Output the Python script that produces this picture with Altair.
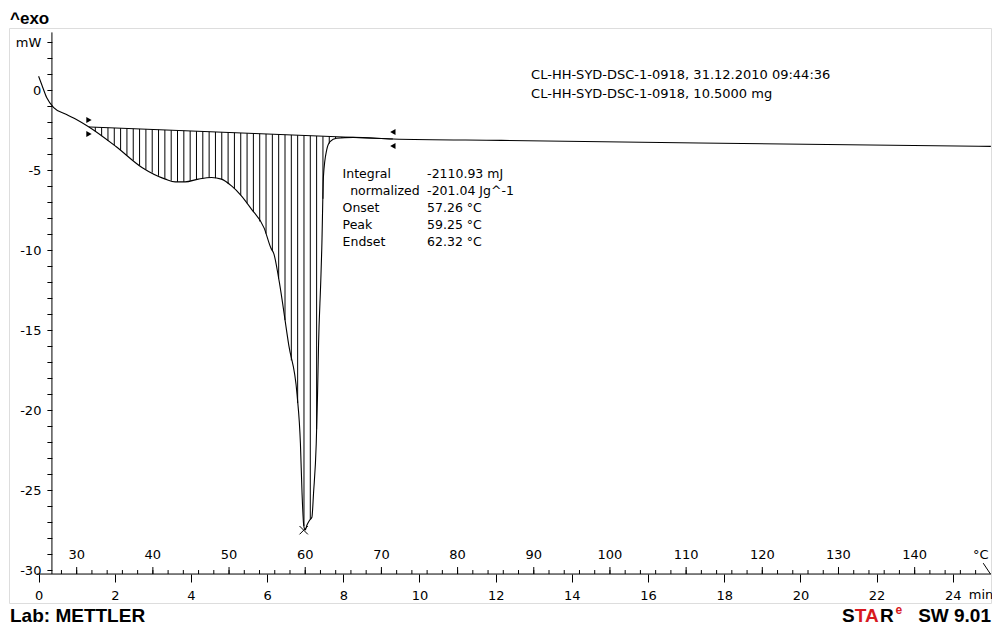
import altair as alt
import numpy as np
import pandas as pd

# ---------------- data ----------------
# DSC curve: time (min) vs heat flow (mW)
time_min = [0.000, 0.086, 0.215, 0.389, 0.734, 0.993, 1.323, 2.031, 2.724, 3.328,
            3.588, 3.847, 4.192, 4.540, 4.799, 5.058, 5.318, 5.577, 5.922, 6.096,
            6.181, 6.311, 6.570, 6.786, 6.874, 6.916, 6.960, 6.999, 7.046, 7.110,
            7.175, 7.219, 7.289, 7.323, 7.349, 7.409, 7.435, 7.479, 7.564, 7.652,
            7.824, 8.257, 9.295, 12.149, 17.337, 25.0]
heat_flow_mW = [0.86, 0.31, -0.49, -1.08, -1.53, -1.84, -2.31, -3.53, -4.86, -5.57,
                -5.74, -5.74, -5.57, -5.47, -5.57, -5.98, -6.60, -7.41, -8.63, -9.86,
                -10.27, -11.88, -15.98, -19.04, -22.11, -25.17, -27.19, -27.50, -27.19, -26.90,
                -26.70, -25.17, -22.11, -19.04, -15.98, -11.88, -9.86, -5.37, -3.74, -3.23,
                -3.02, -2.96, -3.06, -3.15, -3.31, -3.52]

# integration limits (baseline end points)
limit_t = [1.323, 9.300]
limit_mW = [-2.31, -3.06]

# peak mark
peak_t = [6.96]
peak_mW = [-27.51]

# axes
time_ticks = list(range(0, 25, 2))
mw_ticks = list(range(-30, 4))
temp_major = list(range(30, 141, 10))
temp_minor = list(range(28, 149, 2))
start_temp_C = 25.0      # temperature at time 0
heating_rate = 5.0       # K/min
axis_mW = -30.25         # level of the time/temperature axis line
yaxis_t = 0.35           # time position of the mW axis line
yaxis_top_mW = 3.6
hatch_step_min = 0.166

header_lines = ["CL-HH-SYD-DSC-1-0918, 31.12.2010 09:44:36",
                "CL-HH-SYD-DSC-1-0918, 10.5000 mg"]
header_mW = [0.92, -0.25]
result_names = ["Integral", "normalized", "Onset", "Peak", "Endset"]
result_name_t = [7.98, 8.18, 7.98, 7.98, 7.98]
result_values = ["-2110.93 mJ", "-201.04 Jg^-1", "57.26 \u00b0C", "59.25 \u00b0C", "62.32 \u00b0C"]
result_mW = [-5.27, -6.29, -7.35, -8.43, -9.51]

# ---------------- layout ----------------
W, H = 982, 575
x_dom = [-0.777, 25.004]
y_dom = [-32.06, 3.875]
FONT = "DejaVu Sans"
BOLD = "Liberation Sans"
RED = "#d71920"

xs = alt.Scale(domain=x_dom, nice=False, zero=False)
ys = alt.Scale(domain=y_dom, nice=False, zero=False)
x_axis = alt.Axis(values=time_ticks, offset=-29, domain=False, grid=False,
                  tickSize=8, tickColor="black", tickWidth=1, labelPadding=7,
                  labelFont=FONT, labelFontSize=13, labelColor="black", title=None)
y_axis = alt.Axis(values=mw_ticks, offset=-42.9, domain=False, grid=False,
                  tickSize=5, tickColor="black", tickWidth=1, labelPadding=6,
                  labelFont=FONT, labelFontSize=13, labelColor="black", title=None,
                  labelExpr="datum.value == 3 ? 'mW' : (datum.value % 5 == 0 ? '' + datum.value : '')")


def X(f="t"):
    return alt.X(f, type="quantitative", scale=xs, axis=x_axis)


def Y(f="v"):
    return alt.Y(f, type="quantitative", scale=ys, axis=y_axis)


curve_df = pd.DataFrame({"t": time_min, "v": heat_flow_mW})

# hatching between baseline and curve
th = np.arange(limit_t[0] + hatch_step_min, limit_t[1], hatch_step_min)
base_h = np.interp(th, limit_t, limit_mW)
curve_h = np.interp(th, time_min, heat_flow_mW)
keep = curve_h < base_h - 0.03
hatch_df = pd.DataFrame({"t": th[keep], "v": base_h[keep], "v2": curve_h[keep]})

hatch = alt.Chart(hatch_df).mark_rule(color="black", strokeWidth=1).encode(
    x=X(), y=Y(), y2="v2:Q")

baseline = alt.Chart(pd.DataFrame({"t": limit_t, "v": limit_mW})).mark_line(
    color="black", strokeWidth=1).encode(x=X(), y=Y())

curve = alt.Chart(curve_df).mark_line(color="black", strokeWidth=1.1,
                                      interpolate="monotone").encode(x=X(), y=Y())

# axis lines
yaxis_line = alt.Chart(pd.DataFrame({"t": [yaxis_t], "v": [yaxis_top_mW], "v2": [axis_mW]})).mark_rule(
    color="black", strokeWidth=1).encode(x=X(), y=Y(), y2="v2:Q")
xaxis_line = alt.Chart(pd.DataFrame({"t": [-0.05], "t2": [x_dom[1]], "v": [axis_mW]})).mark_rule(
    color="black", strokeWidth=1).encode(x=X(), x2="t2:Q", y=Y())
end_mark = alt.Chart(pd.DataFrame({"t": [24.80, 24.99], "v": [-29.57, axis_mW]})).mark_line(
    color="black", strokeWidth=1).encode(x=X(), y=Y())


# temperature axis (ticks above the line)
def temp_layer(vals, length):
    return alt.Chart(pd.DataFrame({"T": vals})).transform_calculate(
        t=f"(datum.T - {start_temp_C}) / {heating_rate}", v=f"{axis_mW}"
    ).mark_rule(color="black", strokeWidth=1, y2Offset=-length).encode(
        x=X(), y=Y(), y2="v:Q")


temp_minor_l = temp_layer(temp_minor, 4)
temp_major_l = temp_layer(temp_major, 7)
temp_labels = alt.Chart(pd.DataFrame({"T": temp_major})).transform_calculate(
    t=f"(datum.T - {start_temp_C}) / {heating_rate}", v=f"{axis_mW}"
).mark_text(font=FONT, fontSize=13, color="black", dy=-19, baseline="middle", align="center").encode(
    x=X(), y=Y(), text="T:N")

unit_c = alt.Chart(pd.DataFrame({"t": [24.94], "v": [axis_mW], "s": ["\u00b0C"]})).mark_text(
    font=FONT, fontSize=13, color="black", dy=-19, align="right", baseline="middle").encode(
    x=X(), y=Y(), text="s:N")
unit_min = alt.Chart(pd.DataFrame({"t": [24.42], "v": [axis_mW], "s": ["min"]})).mark_text(
    font=FONT, fontSize=13, color="black", dy=21, align="left", baseline="middle").encode(
    x=X(), y=Y(), text="s:N")


# integration limit markers and peak mark
def tri(tv, vv, shape, off):
    return alt.Chart(pd.DataFrame({"t": [tv], "v": [vv]})).mark_point(
        shape=shape, filled=True, color="black", size=38, opacity=1, yOffset=off).encode(
        x=X(), y=Y())


markers = [tri(limit_t[0], limit_mW[0], "triangle-right", -7),
           tri(limit_t[0], limit_mW[0], "triangle-right", 7),
           tri(limit_t[1], limit_mW[1], "triangle-left", -7),
           tri(limit_t[1], limit_mW[1], "triangle-left", 7)]
peak = alt.Chart(pd.DataFrame({"t": peak_t, "v": peak_mW})).mark_point(
    shape="M-1,-1L1,1M-1,1L1,-1", filled=False, color="black", size=70,
    strokeWidth=1, opacity=1).encode(x=X(), y=Y())

# text annotations
header = alt.Chart(pd.DataFrame({"t": [12.93] * 2, "v": header_mW, "s": header_lines})).mark_text(
    font=FONT, fontSize=13, color="black", align="left", baseline="middle").encode(
    x=X(), y=Y(), text="s:N")
res_names = alt.Chart(pd.DataFrame({"t": result_name_t, "v": result_mW, "s": result_names})).mark_text(
    font=FONT, fontSize=12.5, color="black", align="left", baseline="middle").encode(
    x=X(), y=Y(), text="s:N")
res_vals = alt.Chart(pd.DataFrame({"t": [10.2] * 5, "v": result_mW, "s": result_values})).mark_text(
    font=FONT, fontSize=12.5, color="black", align="left", baseline="middle").encode(
    x=X(), y=Y(), text="s:N")


# page labels
def label(txt, x, y, size, color="black", align="left"):
    return alt.Chart(pd.DataFrame({"s": [txt]})).mark_text(
        font=BOLD, fontWeight="bold", fontSize=size, color=color, align=align,
        baseline="alphabetic").encode(x=alt.value(x), y=alt.value(y), text="s:N")


page_labels = [
    label("^exo", 1, -4, 17),
    label("Lab: METTLER", 1, 594, 19),
    label("S", 833, 594, 19),
    label("TA", 845.7, 594, 19, RED),
    label("R", 871.1, 594, 19),
    label("e", 886.5, 586, 12, RED),
    label("SW 9.01", 982, 594, 19, align="right"),
]

chart = alt.layer(
    hatch, baseline, curve, yaxis_line, xaxis_line, end_mark,
    temp_minor_l, temp_major_l, temp_labels, unit_c, unit_min,
    *markers, peak, header, res_names, res_vals, *page_labels
).properties(
    width=W, height=H,
    autosize=alt.AutoSizeParams(type="none"),
    padding={"left": 1, "top": 20, "right": 1, "bottom": 23},
).configure_view(stroke="black", strokeWidth=1.5).configure(background="white")

chart.save("out.html", embed_options={"renderer": "svg", "actions": False})
